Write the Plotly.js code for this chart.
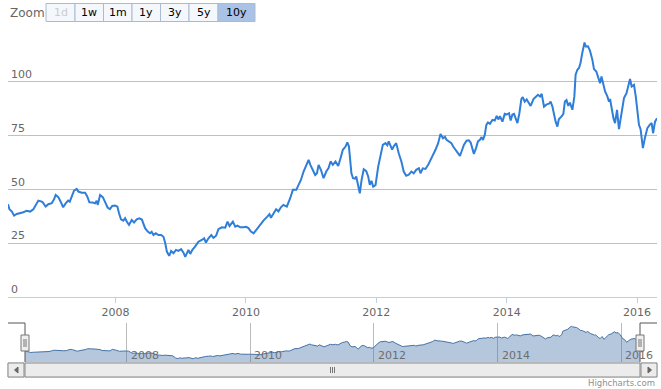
<!DOCTYPE html>
<html>
<head>
<meta charset="utf-8">
<script src="https://cdn.plot.ly/plotly-3.0.1.min.js"></script>
<style>html,body{margin:0;padding:0;background:#fff;}#chart{width:661px;height:389px;}</style>
</head>
<body>
<div id="chart"></div>
<script>
// ---- data (weekly-ish closing values) ----
const dates = [
"2006-05-09","2006-05-17","2006-05-31","2006-06-12","2006-06-27","2006-07-16","2006-08-03","2006-08-22","2006-09-10","2006-09-28",
"2006-10-13","2006-10-26","2006-11-14","2006-11-20","2006-12-06","2006-12-21","2007-01-09","2007-01-22","2007-01-31","2007-02-15",
"2007-02-28","2007-03-14","2007-03-29","2007-04-11","2007-04-20","2007-04-30","2007-05-14","2007-05-29","2007-06-07","2007-06-26",
"2007-07-15","2007-07-27","2007-08-08","2007-08-27","2007-09-09","2007-09-18","2007-09-24","2007-10-07","2007-10-22","2007-11-03",
"2007-11-18","2007-12-01","2007-12-14","2007-12-30","2008-01-12","2008-01-21","2008-02-01","2008-02-14","2008-02-24","2008-03-05",
"2008-03-17","2008-04-01","2008-04-14","2008-04-29","2008-05-14","2008-05-28","2008-06-06","2008-06-15","2008-06-30","2008-07-13",
"2008-07-22","2008-08-01","2008-08-14","2008-08-29","2008-09-13","2008-09-26","2008-10-06","2008-10-15","2008-10-28","2008-11-08",
"2008-11-21","2008-12-05","2008-12-19","2009-01-03","2009-01-16","2009-01-26","2009-02-04","2009-02-13","2009-02-23","2009-03-07",
"2009-03-22","2009-04-10","2009-04-29","2009-05-12","2009-05-22","2009-06-05","2009-06-21","2009-07-03","2009-07-18","2009-07-31",
"2009-08-19","2009-09-07","2009-09-20","2009-10-01","2009-10-20","2009-11-02","2009-11-15","2009-11-30","2009-12-19","2010-01-02",
"2010-01-15","2010-01-29","2010-02-13","2010-02-28","2010-03-18","2010-04-09","2010-04-28","2010-05-13","2010-05-21","2010-06-04",
"2010-06-19","2010-07-02","2010-07-16","2010-07-30","2010-08-18","2010-09-06","2010-09-21","2010-10-10","2010-10-23","2010-11-05",
"2010-11-20","2010-12-05","2010-12-18","2010-12-28","2011-01-12","2011-01-24","2011-02-03","2011-02-12","2011-02-25","2011-03-12",
"2011-03-27","2011-04-09","2011-04-20","2011-05-03","2011-05-18","2011-06-02","2011-06-15","2011-06-28","2011-07-13","2011-07-23",
"2011-08-01","2011-08-07","2011-08-15","2011-08-24","2011-09-04","2011-09-11","2011-09-20","2011-10-01","2011-10-11","2011-10-23",
"2011-11-06","2011-11-17","2011-11-26","2011-12-05","2011-12-15","2011-12-28","2012-01-12","2012-01-25","2012-02-07","2012-02-22",
"2012-03-03","2012-03-11","2012-03-21","2012-03-30","2012-04-08","2012-04-22","2012-05-06","2012-05-21","2012-06-03","2012-06-17",
"2012-07-01","2012-07-16","2012-07-29","2012-08-12","2012-08-27","2012-09-05","2012-09-18","2012-10-03","2012-10-18","2012-10-31",
"2012-11-13","2012-11-28","2012-12-13","2012-12-26","2013-01-09","2013-01-20","2013-01-29","2013-02-11","2013-02-25","2013-03-07",
"2013-03-20","2013-04-03","2013-04-14","2013-04-23","2013-05-06","2013-05-21","2013-06-03","2013-06-13","2013-06-22","2013-07-01",
"2013-07-13","2013-07-24","2013-08-04","2013-08-12","2013-08-21","2013-08-31","2013-09-09","2013-09-18","2013-09-29","2013-10-13",
"2013-10-26","2013-11-06","2013-11-15","2013-11-24","2013-12-08","2013-12-21","2014-01-01","2014-01-14","2014-01-23","2014-02-02",
"2014-02-11","2014-02-20","2014-03-02","2014-03-13","2014-03-24","2014-04-01","2014-04-12","2014-04-23","2014-05-04","2014-05-15",
"2014-05-31","2014-06-13","2014-06-25","2014-07-07","2014-07-16","2014-07-29","2014-08-13","2014-08-26","2014-09-04","2014-09-14",
"2014-09-23","2014-10-02","2014-10-12","2014-10-20","2014-11-04","2014-11-14","2014-11-23","2014-12-02","2014-12-12","2014-12-21",
"2015-01-04","2015-01-15","2015-01-22","2015-02-01","2015-02-10","2015-02-19","2015-02-28","2015-03-06","2015-03-13","2015-03-20",
"2015-04-01","2015-04-12","2015-04-26","2015-05-05","2015-05-18","2015-05-30","2015-06-08","2015-06-16","2015-06-25","2015-07-06",
"2015-07-19","2015-07-28","2015-08-03","2015-08-12","2015-08-22","2015-08-31","2015-09-11","2015-09-22","2015-10-07","2015-10-20",
"2015-11-03","2015-11-14","2015-11-23","2015-12-02","2015-12-15","2015-12-25","2016-01-03","2016-01-12","2016-01-21","2016-02-03",
"2016-02-14","2016-02-28","2016-03-12","2016-03-23","2016-03-31","2016-04-11","2016-04-22"
];
const values = [
43.1,40.8,39.7,37.8,38.6,38.9,39.4,40.1,39.7,40.8,
42.8,44.8,44.3,43.9,42.0,43.1,43.6,45.4,47.4,46.4,
44.3,41.7,43.6,44.8,44.3,46.7,49.4,50.2,49.0,48.5,
48.5,46.7,44.0,43.9,43.5,44.7,42.8,47.4,46.4,44.3,
41.6,40.8,42.3,42.5,42.0,38.9,36.1,35.5,36.6,35.0,
33.5,35.8,34.6,36.1,36.6,36.0,34.3,32.0,30.4,29.6,
30.3,28.8,29.6,28.8,28.8,28.0,25.0,21.1,19.1,21.4,
20.3,21.9,21.4,22.2,20.6,18.7,20.3,21.9,20.0,21.9,
23.4,25.7,26.5,27.3,25.3,27.3,28.8,27.5,28.5,31.5,
32.4,32.2,35.0,33.0,35.0,32.7,33.2,32.4,32.4,32.6,
32.0,30.4,29.6,31.2,33.5,35.5,37.1,38.5,36.8,38.9,
40.8,39.8,41.7,42.8,42.0,45.9,49.8,49.8,52.1,54.4,
58.3,61.4,63.7,61.4,59.1,56.7,57.5,61.4,59.1,55.2,
58.3,59.9,63.0,61.4,63.0,60.9,64.5,68.4,69.9,71.8,
70.0,63.0,57.5,55.2,55.0,56.0,52.9,48.2,54.4,59.4,
58.5,56.0,52.1,54.0,51.3,52.0,60.6,66.0,70.7,71.5,
70.5,72.3,70.0,68.5,70.0,71.5,66.8,63.0,58.3,56.3,
56.8,58.3,57.5,59.1,59.8,57.5,59.8,59.5,61.4,63.7,
65.3,68.4,71.5,75.8,73.8,74.5,73.0,72.3,71.5,69.9,
68.4,67.1,65.6,67.6,70.7,72.6,72.8,71.8,68.7,66.5,
69.2,72.3,73.0,74.3,73.0,75.3,80.0,81.1,80.5,82.3,
82.0,84.2,82.5,84.0,81.5,85.1,84.8,85.4,82.0,84.8,
85.1,83.0,80.8,85.4,92.0,92.9,90.8,91.8,90.1,88.8,
92.0,92.9,94.0,93.2,94.4,88.5,89.5,89.8,90.8,88.5,
84.7,81.5,79.2,82.6,83.9,85.0,90.8,91.5,88.8,90.3,
87.0,93.2,103.3,105.6,106.4,109.0,113.3,115.7,118.3,116.4,
116.5,114.6,110.2,105.9,104.8,101.7,99.3,102.5,98.6,95.5,
93.2,90.8,92.0,87.3,83.1,80.8,87.0,78.0,87.0,92.4,
94.7,98.6,101.3,97.8,98.6,93.2,85.4,80.0,78.0,69.2,
73.8,78.5,80.0,80.8,76.1,81.5,83.1
];
const yTickVals = [0,25,50,75,100,125];
const yTickText = ["0","25","50","75","100",""];
const navTickDates = ["2008-01-01","2010-01-01","2012-01-01","2014-01-01","2016-01-01"];
const navTickText = ["2008","2010","2012","2014","2016"];
const rangeLabels = ["1d","1w","1m","1y","3y","5y","10y"];

// ---- layout helpers (pixel -> paper) ----
const L = 8, R = 657, T = 28, B = 377;
const PX = p => (p - L) / (R - L);
const PY = p => (B - p) / (B - T);

const FONT = "DejaVu Sans, Verdana, sans-serif";
const shapes = [];
const annotations = [];

function rect(x0, y0, x1, y1, fill, line, lw) {
  shapes.push({type: "rect", xref: "paper", yref: "paper", x0: PX(x0), x1: PX(x1), y0: PY(y1), y1: PY(y0),
    fillcolor: fill, line: {color: line, width: lw === undefined ? 1 : lw}, layer: "above"});
}
function path(pts, color, w, fill) {
  const d = pts.map((p, i) => (i ? "L" : "M") + PX(p[0]) + "," + PY(p[1])).join(" ") + (fill ? " Z" : "");
  shapes.push({type: "path", xref: "paper", yref: "paper", path: d, line: {color: color, width: w},
    fillcolor: fill || "rgba(0,0,0,0)", layer: "above"});
}
function text(x, y, s, size, color, xanchor) {
  annotations.push({xref: "paper", yref: "paper", x: PX(x), y: PY(y), text: s, showarrow: false,
    xanchor: xanchor || "center", yanchor: "middle", font: {family: FONT, size: size, color: color}});
}

// range selector
text(8, 13, "Zoom", 12, "#666", "left");
const btnEdges = [46, 75, 103.5, 132, 160.5, 189, 218, 255];
rangeLabels.forEach((lab, i) => {
  const sel = i === rangeLabels.length - 1;
  rect(btnEdges[i], 3.5, btnEdges[i + 1], 21.5, sel ? "#a9c2e6" : "#f4f7fb", "#a9bbd2", 1);
  text((btnEdges[i] + btnEdges[i + 1]) / 2, 12.5, lab, 11, i === 0 ? "#cccccc" : "#000000");
});

// navigator geometry
const NAV_L = 25, NAV_R = 640, NAV_T = 323, NAV_B = 362;
// outline
path([[L, NAV_T], [NAV_L, NAV_T], [NAV_L, NAV_B]], "#555", 1);
path([[NAV_R, NAV_B], [NAV_R, NAV_T], [R, NAV_T]], "#555", 1);
// handles
[NAV_L, NAV_R].forEach(cx => {
  rect(cx - 4, 335, cx + 4, 351, "#f0eeee", "#777", 1);
  path([[cx - 1, 339], [cx - 1, 347]], "#777", 1);
  path([[cx + 1, 339], [cx + 1, 347]], "#777", 1);
});

// scrollbar
const SB_T = 363, SB_B = 377;
rect(L, SB_T, R, SB_B, "#f7f7f7", "#cccccc", 1);
rect(NAV_L, SB_T, NAV_R, SB_B, "#ececec", "#8a8a8a", 1);
rect(L, SB_T, NAV_L - 1, SB_B, "#ececec", "#8a8a8a", 1);
rect(NAV_R + 1, SB_T, R, SB_B, "#ececec", "#8a8a8a", 1);
path([[18, 367], [18, 373], [14.5, 370]], "#666", 1, "#666");
path([[648, 367], [648, 373], [651.5, 370]], "#666", 1, "#666");
const gx = (NAV_L + NAV_R) / 2;
[-2, 0, 2].forEach(o => path([[gx + o, 367], [gx + o, 373]], "#777", 1));

// navigator axis labels (text positioned on the navigator's date axis)
navTickDates.forEach((d, i) => {
  annotations.push({xref: "x2", yref: "paper", x: d, y: PY(355), text: navTickText[i], showarrow: false,
    xanchor: "left", xshift: 2, yanchor: "middle", font: {family: FONT, size: 11, color: "#6e6e6e"}});
});

// credits
annotations.push({xref: "paper", yref: "paper", x: PX(657), y: PY(383), text: "Highcharts.com", showarrow: false,
  xanchor: "right", yanchor: "middle", font: {family: FONT, size: 8.5, color: "#909090"}});

const traces = [
  {type: "scatter", mode: "lines", x: dates, y: values, xaxis: "x", yaxis: "y",
   line: {color: "#2f7ed8", width: 2}, hoverinfo: "x+y"},
  {type: "scatter", mode: "lines", x: dates, y: values, xaxis: "x2", yaxis: "y2",
   fill: "tozeroy", fillcolor: "rgba(69,114,167,0.4)", line: {color: "#4572A7", width: 1}, hoverinfo: "skip"}
];

const layout = {
  width: 661, height: 389,
  margin: {l: L, r: 661 - R, t: T, b: 389 - B, pad: 0},
  paper_bgcolor: "#fff", plot_bgcolor: "rgba(0,0,0,0)",
  showlegend: false,
  font: {family: FONT, size: 11, color: "#666"},
  xaxis: {
    domain: [0, 1], anchor: "y", type: "date",
    range: [dates[0], dates[dates.length - 1]],
    tick0: "2008-01-01", dtick: "M24", tickformat: "%Y",
    ticks: "outside", ticklen: 5, tickcolor: "#C0D0E0", tickwidth: 1,
    showline: true, linecolor: "#C0D0E0", linewidth: 1,
    showgrid: false, zeroline: false,
    tickfont: {family: FONT, size: 11, color: "#666"}
  },
  yaxis: {
    domain: [PY(297), 1], anchor: "x",
    range: [0, 125], tickvals: yTickVals, ticktext: yTickText,
    ticklabelposition: "inside top", ticks: "",
    showgrid: true, gridcolor: "#C0C0C0", gridwidth: 1,
    zeroline: false, showline: false,
    tickfont: {family: FONT, size: 11, color: "#666"}
  },
  xaxis2: {
    domain: [PX(NAV_L), PX(NAV_R)], anchor: "y2", type: "date",
    range: [dates[0], dates[dates.length - 1]],
    tickvals: navTickDates, showticklabels: false, ticks: "",
    showgrid: true, gridcolor: "#bbbbbb", gridwidth: 1,
    showline: false, zeroline: false
  },
  yaxis2: {
    domain: [PY(NAV_B), PY(NAV_T)], anchor: "x2",
    range: [8.7, 128.3], showgrid: false, showticklabels: false, zeroline: false, showline: false
  },
  shapes: shapes,
  annotations: annotations
};

Plotly.newPlot("chart", traces, layout, {displayModeBar: false, staticPlot: true});
</script>
</body>
</html>
